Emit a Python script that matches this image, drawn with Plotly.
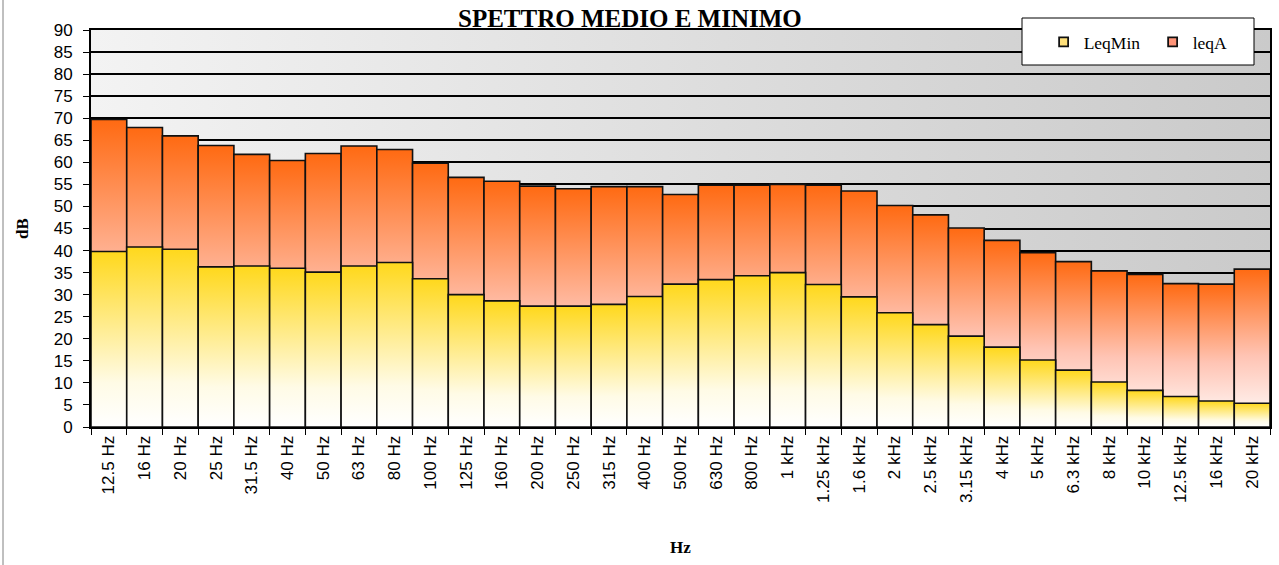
import urllib.parse
import plotly.graph_objects as go

# ── Data ──────────────────────────────────────────────────────────────────────
BANDS = ["12.5 Hz", "16 Hz", "20 Hz", "25 Hz", "31.5 Hz", "40 Hz", "50 Hz", "63 Hz",
         "80 Hz", "100 Hz", "125 Hz", "160 Hz", "200 Hz", "250 Hz", "315 Hz", "400 Hz",
         "500 Hz", "630 Hz", "800 Hz", "1 kHz", "1.25 kHz", "1.6 kHz", "2 kHz", "2.5 kHz",
         "3.15 kHz", "4 kHz", "5 kHz", "6.3 kHz", "8 kHz", "10 kHz", "12.5 kHz", "16 kHz",
         "20 kHz"]
LEQ_A = [69.7, 67.9, 66.0, 63.8, 61.8, 60.4, 62.0, 63.7, 62.9, 59.8, 56.6, 55.7,
         54.6, 54.0, 54.5, 54.5, 52.7, 54.8, 54.8, 55.0, 54.8, 53.5, 50.2, 48.1,
         45.1, 42.3, 39.5, 37.5, 35.4, 34.6, 32.5, 32.4, 35.8]
LEQ_MIN = [39.8, 40.8, 40.3, 36.3, 36.5, 36.0, 35.1, 36.5, 37.3, 33.6, 30.0, 28.6,
           27.4, 27.4, 27.8, 29.6, 32.4, 33.4, 34.3, 35.0, 32.3, 29.5, 25.9, 23.2,
           20.6, 18.1, 15.2, 12.9, 10.2, 8.3, 6.9, 5.9, 5.4]
Y_TICKS = list(range(0, 95, 5))

# ── Palette ───────────────────────────────────────────────────────────────────
COLORS = {
    "leqa_scale": [[0, "#FFFFFF"], [0.45, "#FFC4B4"], [1, "#FF6A12"]],
    "min_scale": [[0, "#FFFFFF"], [0.25, "#FFFBE6"], [1, "#FFD81C"]],
    "leqa_key": "#FF9478",
    "min_key": "#FFE07A",
    "edge": "#111111",
}
SERIF = "Liberation Serif, Times New Roman, serif"
SANS = "Liberation Sans, Arial, sans-serif"

# plot-area background: horizontal grey gradient (svg image, sits under the grid)
BG_SVG = (
    "<svg xmlns='http://www.w3.org/2000/svg' width='100' height='10' "
    "viewBox='0 0 100 10' preserveAspectRatio='none'><defs>"
    "<linearGradient id='g' x1='0' x2='1' y1='0' y2='0'>"
    "<stop offset='0' stop-color='rgb(243,243,243)'/>"
    "<stop offset='1' stop-color='rgb(202,202,202)'/>"
    "</linearGradient></defs><rect width='100' height='10' fill='url(#g)'/></svg>"
)
BG_URI = "data:image/svg+xml;charset=utf-8," + urllib.parse.quote(BG_SVG)

n = len(BANDS)
fig = go.Figure()


def add_bars(values, scale, name):
    for i, v in enumerate(values):
        fig.add_trace(go.Scatter(
            x=[i - 0.5, i - 0.5, i + 0.5, i + 0.5, i - 0.5],
            y=[0, v, v, 0, 0],
            mode="lines", fill="toself",
            line=dict(color=COLORS["edge"], width=1.6),
            fillgradient=dict(type="vertical", colorscale=scale),
            name=name, legendgroup=name, showlegend=False,
            hovertemplate=f"{BANDS[i]}<br>{name}: {v:.1f} dB<extra></extra>",
        ))


add_bars(LEQ_A, COLORS["leqa_scale"], "leqA")
add_bars(LEQ_MIN, COLORS["min_scale"], "LeqMin")

# legend keys
for name, col in [("LeqMin", COLORS["min_key"]), ("leqA", COLORS["leqa_key"])]:
    fig.add_trace(go.Scatter(
        x=[None], y=[None], mode="markers", name=name, legendgroup=name,
        marker=dict(symbol="square", size=9, color=col,
                    line=dict(color=COLORS["edge"], width=1.8)),
    ))

fig.update_layout(
    width=1279, height=565,
    paper_bgcolor="#FFFFFF", plot_bgcolor="#FFFFFF",
    margin=dict(l=91, r=9, t=30, b=138, autoexpand=False),
    showlegend=True,
    legend=dict(orientation="h", x=0.808, y=1.015, xanchor="left", yanchor="top",
                bgcolor="rgba(0,0,0,0)", borderwidth=0, entrywidth=64,
                font=dict(family=SERIF, size=17.5, color="#000000")),
    images=[dict(source=BG_URI, xref="paper", yref="paper", x=0, y=1,
                 sizex=1, sizey=1, xanchor="left", yanchor="top",
                 sizing="stretch", layer="below")],
    annotations=[
        dict(text="<b>SPETTRO MEDIO E MINIMO</b>", xref="paper", yref="paper",
             x=(630 - 91) / 1179, y=(427 - 34) / 397, xanchor="center", yanchor="bottom",
             showarrow=False, font=dict(family=SERIF, size=25, color="#000000")),
    ],
    shapes=[
        # legend box
        dict(type="rect", xref="paper", yref="paper", layer="above",
             x0=(1022 - 91) / 1179, x1=(1254 - 91) / 1179,
             y0=(427 - 65) / 397, y1=(427 - 18) / 397,
             fillcolor="#FFFFFF", line=dict(color="#000000", width=1)),
        # chart-area border (left edge)
        dict(type="line", xref="paper", yref="paper",
             x0=(3 - 91) / 1179, x1=(3 - 91) / 1179, y0=-138 / 397, y1=(427 + 5) / 397,
             line=dict(color="#808080", width=1)),
    ],
)

fig.update_xaxes(
    range=[-0.5, n - 0.5], tickmode="array", tickvals=list(range(n)), ticktext=BANDS,
    tickangle=-90, ticks="", showgrid=False, zeroline=False, automargin=False,
    showline=True, linecolor="#000000", linewidth=2, mirror=True,
    minor=dict(tickmode="linear", tick0=-0.5, dtick=1, ticks="outside",
               ticklen=6, tickcolor="#000000", tickwidth=1, showgrid=False),
    tickfont=dict(family=SANS, size=17, color="#000000"),
    title=dict(text="<b>Hz</b>", font=dict(family=SERIF, size=17, color="#000000"),
               standoff=39),
)
fig.update_yaxes(
    range=[0, 90], tickmode="array", tickvals=Y_TICKS,
    ticks="outside", ticklen=6, tickcolor="#000000", ticklabelstandoff=7,
    showgrid=True, gridcolor="#000000", gridwidth=2, zeroline=False, automargin=False,
    showline=True, linecolor="#000000", linewidth=2, mirror=True,
    tickfont=dict(family=SANS, size=17, color="#000000"),
    title=dict(text="<b>dB</b>", font=dict(family=SERIF, size=17, color="#000000"),
               standoff=21),
)

# drop the page's default body margin so the figure sits at the window origin
fig.write_html("out.html", config={"displayModeBar": False},
               post_script="document.body.style.margin='0';")
